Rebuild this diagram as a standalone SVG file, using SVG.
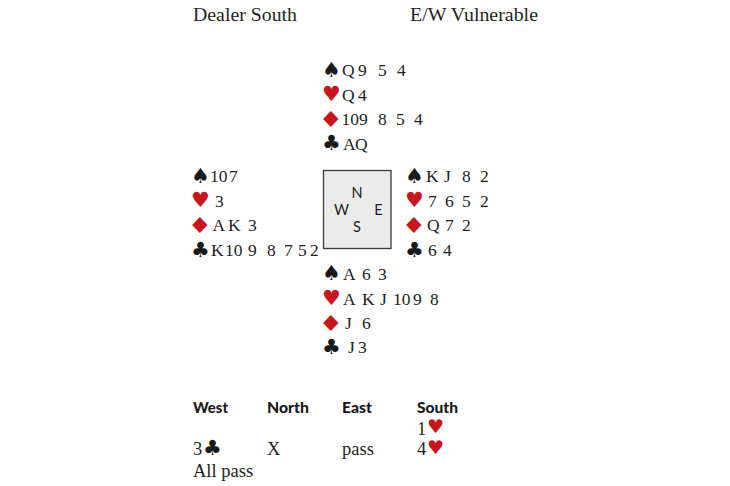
<svg xmlns="http://www.w3.org/2000/svg" width="730" height="486" viewBox="0 0 730 486">
<style>
.t{font-family:"Liberation Serif","Times New Roman",serif;font-size:17.5px;fill:#231f20}
.h{font-family:"Liberation Serif","Times New Roman",serif;font-size:18.5px;fill:#231f20}
.s{font-family:"DejaVu Sans",sans-serif;font-size:21px}
.bs{font-family:"DejaVu Sans",sans-serif;font-size:19px}
.d{font-family:"DejaVu Sans",sans-serif;font-size:22px;fill:#c8161d}
.blk{fill:#1a1a1a}
.red{fill:#c8161d}
.c{font-family:Lato,"DejaVu Sans",sans-serif;font-size:14.5px;fill:#231f20;text-anchor:middle}
.b{font-family:Lato,"DejaVu Sans",sans-serif;font-weight:900;font-size:15.5px;fill:#1a1a1a}
</style>
<rect width="730" height="486" fill="#ffffff"/>
<g id="header">
<text class="h" x="193" y="21" textLength="104" lengthAdjust="spacingAndGlyphs">Dealer South</text>
<text class="h" x="410" y="21" textLength="128" lengthAdjust="spacingAndGlyphs">E/W Vulnerable</text>
</g>
<g id="north">
<text class="s blk" x="322" y="77">♠</text>
<text class="t" y="76"><tspan x="342">Q</tspan><tspan x="358">9</tspan><tspan x="378">5</tspan><tspan x="397">4</tspan></text>
<text class="s red" x="322" y="101">♥</text>
<text class="t" y="101"><tspan x="342">Q</tspan><tspan x="358">4</tspan></text>
<text class="d" transform="translate(318.5,127) scale(1.25,1)">♦</text>
<text class="t" y="125"><tspan x="341.5">10</tspan><tspan x="359">9</tspan><tspan x="378">8</tspan><tspan x="396">5</tspan><tspan x="414">4</tspan></text>
<text class="s blk" x="322" y="150">♣</text>
<text class="t" y="150"><tspan x="343">A</tspan><tspan x="355">Q</tspan></text>
</g>
<g id="west">
<text class="s blk" x="191" y="183">♠</text>
<text class="t" y="182"><tspan x="210">10</tspan><tspan x="229">7</tspan></text>
<text class="s red" x="191" y="207">♥</text>
<text class="t" y="207"><tspan x="215">3</tspan></text>
<text class="d" transform="translate(187.5,233) scale(1.25,1)">♦</text>
<text class="t" y="231"><tspan x="212.5">A</tspan><tspan x="228">K</tspan><tspan x="248">3</tspan></text>
<text class="s blk" x="191" y="257">♣</text>
<text class="t" y="256"><tspan x="211">K</tspan><tspan x="225">10</tspan><tspan x="248">9</tspan><tspan x="267">8</tspan><tspan x="284">7</tspan><tspan x="298">5</tspan><tspan x="310">2</tspan></text>
</g>
<g id="compass">
<rect x="323.5" y="170.5" width="67.5" height="78" fill="#ebebeb" stroke="#3a3a3a" stroke-width="1.3"/>
<text class="c" x="357" y="198">N</text>
<text class="c" x="341.5" y="214.5">W</text>
<text class="c" x="378.5" y="214.5">E</text>
<text class="c" x="357" y="232">S</text>
</g>
<g id="east">
<text class="s blk" x="405" y="183">♠</text>
<text class="t" y="182"><tspan x="426">K</tspan><tspan x="444">J</tspan><tspan x="462">8</tspan><tspan x="480">2</tspan></text>
<text class="s red" x="405" y="207">♥</text>
<text class="t" y="207"><tspan x="428">7</tspan><tspan x="445">6</tspan><tspan x="462">5</tspan><tspan x="480">2</tspan></text>
<text class="d" transform="translate(401.5,233) scale(1.25,1)">♦</text>
<text class="t" y="231"><tspan x="427">Q</tspan><tspan x="445">7</tspan><tspan x="462">2</tspan></text>
<text class="s blk" x="405" y="257">♣</text>
<text class="t" y="256"><tspan x="428">6</tspan><tspan x="443">4</tspan></text>
</g>
<g id="south">
<text class="s blk" x="322" y="280">♠</text>
<text class="t" y="279.5"><tspan x="343">A</tspan><tspan x="362">6</tspan><tspan x="378">3</tspan></text>
<text class="s red" x="322" y="305">♥</text>
<text class="t" y="304.5"><tspan x="343">A</tspan><tspan x="362">K</tspan><tspan x="380">J</tspan><tspan x="393">10</tspan><tspan x="413">9</tspan><tspan x="430">8</tspan></text>
<text class="d" transform="translate(318.5,331) scale(1.25,1)">♦</text>
<text class="t" y="329"><tspan x="345">J</tspan><tspan x="362">6</tspan></text>
<text class="s blk" x="322" y="354">♣</text>
<text class="t" y="353"><tspan x="348">J</tspan><tspan x="358">3</tspan></text>
</g>
<g id="bidding">
<text class="b" x="193" y="413" textLength="35" lengthAdjust="spacingAndGlyphs">West</text>
<text class="b" x="267" y="413" textLength="42" lengthAdjust="spacingAndGlyphs">North</text>
<text class="b" x="342" y="413" textLength="30" lengthAdjust="spacingAndGlyphs">East</text>
<text class="b" x="417" y="413" textLength="41" lengthAdjust="spacingAndGlyphs">South</text>
<text class="h" x="417" y="435">1</text>
<text class="bs red" x="427" y="433">♥</text>
<text class="h" x="193" y="455">3</text>
<text class="s blk" x="203" y="455">♣</text>
<text class="h" x="267" y="455">X</text>
<text class="h" x="342" y="455">pass</text>
<text class="h" x="417" y="455">4</text>
<text class="bs red" x="427" y="454">♥</text>
<text class="h" x="193" y="477">All pass</text>
</g>
</svg>
